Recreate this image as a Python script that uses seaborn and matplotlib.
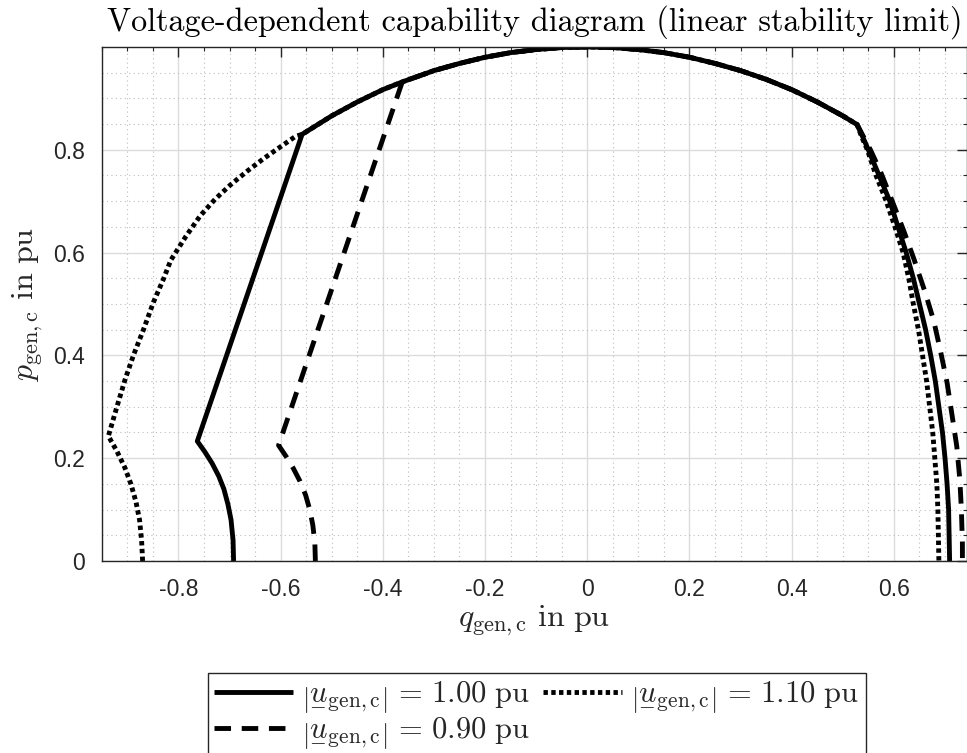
import matplotlib
matplotlib.use('Agg')
import matplotlib.pyplot as plt
from matplotlib.ticker import MultipleLocator
import seaborn as sns
import numpy as np

# shared unit-circle arc (stator current limit)
arc_q = [-0.558, -0.5, -0.45, -0.4, -0.362, -0.3, -0.25, -0.2, -0.15, -0.1, -0.05, 0.0,
         0.05, 0.1, 0.15, 0.2, 0.25, 0.3, 0.35, 0.4, 0.45, 0.5, 0.528]
arc_p = [0.830, 0.866, 0.893, 0.917, 0.932, 0.954, 0.968, 0.980, 0.989, 0.995, 0.999, 1.0,
         0.999, 0.995, 0.989, 0.980, 0.968, 0.954, 0.937, 0.917, 0.893, 0.866, 0.849]

# |u| = 1.00 pu
u100_left_q = [-0.692, -0.693, -0.697, -0.703, -0.711, -0.721, -0.734, -0.748, -0.763]
u100_left_p = [0.0, 0.040, 0.080, 0.110, 0.140, 0.165, 0.190, 0.212, 0.233]
u100_right_q = [0.539, 0.550, 0.568, 0.592, 0.608, 0.624, 0.638, 0.650, 0.662, 0.672,
                0.681, 0.688, 0.695, 0.700, 0.704, 0.707, 0.709]
u100_right_p = [0.825, 0.800, 0.757, 0.700, 0.650, 0.600, 0.550, 0.500, 0.450, 0.400,
                0.350, 0.300, 0.250, 0.200, 0.150, 0.100, 0.0]

# |u| = 0.90 pu
u090_left_q = [-0.532, -0.533, -0.537, -0.543, -0.551, -0.562, -0.575, -0.589, -0.604]
u090_left_p = [0.0, 0.035, 0.070, 0.100, 0.128, 0.155, 0.180, 0.203, 0.225]
u090_right_q = [0.554, 0.574, 0.596, 0.619, 0.639, 0.661, 0.678, 0.691, 0.704, 0.714,
                0.723, 0.729, 0.732, 0.734, 0.734]
u090_right_p = [0.800, 0.757, 0.702, 0.643, 0.588, 0.523, 0.467, 0.409, 0.347, 0.282,
                0.223, 0.158, 0.100, 0.035, 0.0]

# |u| = 1.10 pu
u110_left_q = [-0.870, -0.872, -0.876, -0.883, -0.893, -0.905, -0.920, -0.937, -0.920,
               -0.904, -0.888, -0.868, -0.849, -0.829, -0.815, -0.785, -0.757, -0.728,
               -0.699, -0.666, -0.633, -0.600, -0.571]
u110_left_p = [0.0, 0.040, 0.080, 0.115, 0.150, 0.182, 0.213, 0.243, 0.301,
               0.354, 0.400, 0.451, 0.503, 0.549, 0.585, 0.632, 0.672, 0.704,
               0.731, 0.758, 0.783, 0.806, 0.826]
u110_right_q = [0.537, 0.548, 0.565, 0.585, 0.602, 0.618, 0.629, 0.638, 0.648, 0.656,
                0.664, 0.670, 0.676, 0.680, 0.684, 0.686, 0.688]
u110_right_p = [0.825, 0.800, 0.750, 0.700, 0.650, 0.600, 0.550, 0.500, 0.450, 0.400,
                0.350, 0.300, 0.250, 0.200, 0.150, 0.100, 0.0]


def curve(left_q, left_p, q_start, right_q, right_p):
    i0 = arc_q.index(q_start)
    q = left_q + arc_q[i0:] + right_q
    p = left_p + arc_p[i0:] + right_p
    return q, p


sns.set_theme(style='white')
plt.rcParams['mathtext.fontset'] = 'cm'
plt.rcParams['font.family'] = ['Liberation Sans', 'DejaVu Sans']
plt.rcParams['lines.solid_capstyle'] = 'butt'
plt.rcParams['lines.dash_capstyle'] = 'butt'

fig = plt.figure(figsize=(9.67, 7.53), dpi=100)
ax = fig.add_axes([0.1052, 0.2550, 0.8948, 0.6826])

q1, p1 = curve(u100_left_q, u100_left_p, -0.558, u100_right_q, u100_right_p)
q3, p3 = curve(u110_left_q, u110_left_p, -0.558, u110_right_q, u110_right_p)
q2, p2 = curve(u090_left_q, u090_left_p, -0.362, u090_right_q, u090_right_p)

lw = 3.5
sns.lineplot(x=q1, y=p1, sort=False, estimator=None, ax=ax, color='black', lw=lw)
sns.lineplot(x=q3, y=p3, sort=False, estimator=None, ax=ax, color='black', lw=lw)
sns.lineplot(x=q2, y=p2, sort=False, estimator=None, ax=ax, color='black', lw=lw)
l_solid, l_dot, l_dash = ax.get_lines()[-3:]
l_dot.set_dashes((0.9, 0.7))
l_dash.set_dashes((3.4, 2.2))

ax.set_xlim(-0.950, 0.743)
ax.set_ylim(0, 1.0)
ax.set_xticks(np.arange(-0.8, 0.61, 0.2))
ax.set_yticks(np.arange(0, 0.81, 0.2))
ax.set_xticklabels(['-0.8', '-0.6', '-0.4', '-0.2', '0', '0.2', '0.4', '0.6'])
ax.set_yticklabels(['0', '0.2', '0.4', '0.6', '0.8'])
ax.xaxis.set_minor_locator(MultipleLocator(0.05))
ax.yaxis.set_minor_locator(MultipleLocator(0.05))

ax.grid(which='major', color='#dcdcdc', lw=1.0, ls='-')
ax.grid(which='minor', color='#bdbdbd', lw=0.8, ls=(0, (1, 3)))
ax.set_axisbelow(True)
ax.tick_params(which='major', direction='in', length=7, width=1, top=True, right=True,
               labelsize=16.5, colors='#262626', pad=12)
ax.tick_params(which='minor', direction='in', length=3, width=0.8, top=True, right=True,
               colors='#262626')
for s in ax.spines.values():
    s.set_color('#262626')
    s.set_linewidth(1.0)

ax.set_title('Voltage-dependent capability diagram (linear stability limit)',
             fontfamily='cmr10', fontsize=23.2, pad=12, color='black')
ax.set_xlabel(r'$q_{\mathrm{gen,c}}\ \mathrm{in\ pu}$', fontsize=23, labelpad=2)
ax.set_ylabel(r'$p_{\mathrm{gen,c}}\ \mathrm{in\ pu}$', fontsize=23, labelpad=6)

lab = r'$\left|\underset{-}{u}_{\mathrm{gen,c}}\right|\,=\,%s\ \mathrm{pu}$'
fig.legend([l_solid, l_dash, l_dot], [lab % '1.00', lab % '0.90', lab % '1.10'],
           loc='upper center', bbox_to_anchor=(0.555, 0.106), ncol=2, fontsize=22,
           frameon=True, fancybox=False, edgecolor='#262626', framealpha=1,
           handlelength=2.6, handletextpad=0.3, columnspacing=0.4, labelspacing=0.0,
           borderpad=0.2, borderaxespad=0)

fig.savefig('out.png', dpi=100)
